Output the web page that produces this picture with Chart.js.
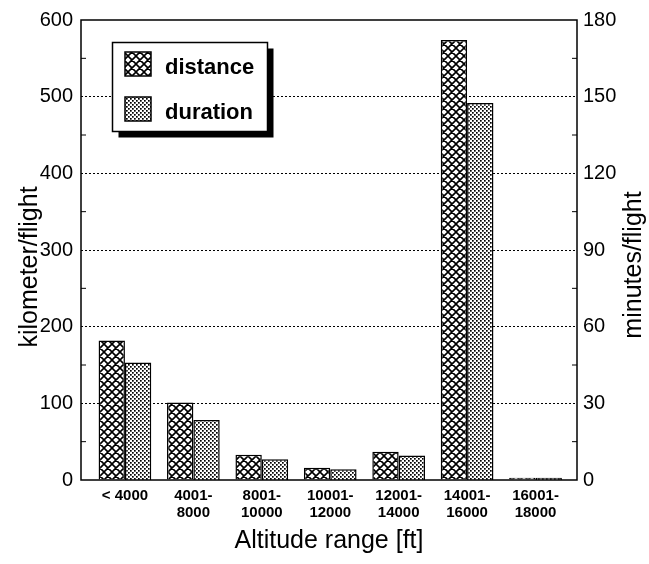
<!DOCTYPE html>
<html><head><meta charset="utf-8">
<script src="https://cdn.jsdelivr.net/npm/chart.js@4/dist/chart.umd.min.js"></script>
<style>html,body{margin:0;padding:0;background:#fff}#wrap{width:649px;height:564px;position:relative}</style>
</head><body><div id="wrap"><canvas id="c" width="649" height="564"></canvas></div>
<script>
const categories = [['< 4000'], ['4001-','8000'], ['8001-','10000'], ['10001-','12000'], ['12001-','14000'], ['14001-','16000'], ['16001-','18000']];
const distanceKm = [182, 101, 33, 16, 37, 574, 3];
const durationMin = [46, 23.5, 8.1, 4.2, 9.6, 147.5, 0.9];
const seriesNames = ['distance', 'duration'];
const leftTicks = [0, 100, 200, 300, 400, 500, 600];
const rightTicks = [0, 30, 60, 90, 120, 150, 180];
const xTitle = 'Altitude range [ft]';
const yTitle = 'kilometer/flight';
const y2Title = 'minutes/flight';

const NARROW = "'Liberation Sans Narrow', 'Liberation Sans', Arial, sans-serif";
const SANS = "'Liberation Sans', Arial, sans-serif";

function hatchPattern(ctx) {
  const c = document.createElement('canvas'); c.width = 8; c.height = 8;
  const g = c.getContext('2d');
  g.fillStyle = '#fff'; g.fillRect(0, 0, 8, 8);
  g.strokeStyle = '#000'; g.lineWidth = 1.6;
  g.beginPath();
  for (const k of [-8, 0, 8]) {
    g.moveTo(k, 0); g.lineTo(k + 8, 8);
    g.moveTo(k + 8, 0); g.lineTo(k, 8);
  }
  g.stroke();
  return ctx.createPattern(c, 'repeat');
}
function dotPattern(ctx) {
  const c = document.createElement('canvas'); c.width = 4; c.height = 4;
  const g = c.getContext('2d');
  g.fillStyle = '#fff'; g.fillRect(0, 0, 4, 4);
  g.fillStyle = '#000';
  g.fillRect(0, 0, 1.7, 1.7);
  g.fillRect(2, 2, 1.7, 1.7);
  return ctx.createPattern(c, 'repeat');
}

const canvas = document.getElementById('c');
const ctx0 = canvas.getContext('2d');
const hatch = hatchPattern(ctx0);
const dots = dotPattern(ctx0);

const decor = {
  id: 'decor',
  afterDatasetsDraw(chart) {
    const {ctx, chartArea: a, scales} = chart;
    ctx.save();
    ctx.setLineDash([]);
    ctx.strokeStyle = '#000';
    ctx.lineWidth = 1;
    ctx.beginPath();
    for (let i = 0; i < leftTicks.length - 1; i++) {
      const y = scales.y.getPixelForValue((leftTicks[i] + leftTicks[i + 1]) / 2);
      ctx.moveTo(a.left, y); ctx.lineTo(a.left + 5, y);
    }
    for (let i = 0; i < rightTicks.length - 1; i++) {
      const y = scales.y2.getPixelForValue((rightTicks[i] + rightTicks[i + 1]) / 2);
      ctx.moveTo(a.right - 5, y); ctx.lineTo(a.right, y);
    }
    ctx.stroke();
    ctx.lineWidth = 1.5;
    ctx.strokeRect(a.left, a.top, a.right - a.left, a.bottom - a.top);
    // legend
    const lx = 112.5, ly = 42.5, lw = 155, lh = 89;
    ctx.fillStyle = '#000';
    ctx.fillRect(lx + 6, ly + 6, lw, lh);
    ctx.fillStyle = '#fff';
    ctx.fillRect(lx, ly, lw, lh);
    ctx.lineWidth = 1.5;
    ctx.strokeRect(lx, ly, lw, lh);
    const pats = [hatch, dots];
    ctx.font = 'bold 22px ' + SANS;
    ctx.textAlign = 'left'; ctx.textBaseline = 'alphabetic';
    for (let i = 0; i < seriesNames.length; i++) {
      const sy = 52 + i * 45;
      ctx.fillStyle = pats[i];
      ctx.fillRect(125, sy, 26, 24);
      ctx.lineWidth = 1.5; ctx.strokeStyle = '#000';
      ctx.strokeRect(125, sy, 26, 24);
      ctx.fillStyle = '#000';
      ctx.fillText(seriesNames[i], 165, sy + 22);
    }
    // vertical axis titles
    ctx.font = '25px ' + SANS;
    ctx.textAlign = 'center'; ctx.textBaseline = 'middle';
    ctx.save();
    ctx.translate(30, 267); ctx.rotate(-Math.PI / 2);
    ctx.fillText(yTitle, 0, 0);
    ctx.restore();
    ctx.save();
    ctx.translate(634, 265); ctx.rotate(-Math.PI / 2);
    ctx.fillText(y2Title, 0, 0);
    ctx.restore();
    ctx.restore();
  }
};

new Chart(canvas, {
  type: 'bar',
  data: {
    datasets: [
      {
        label: seriesNames[0],
        data: distanceKm.map((v, i) => ({x: i, y: v})),
        backgroundColor: hatch, borderColor: '#000', borderWidth: 1.5,
        yAxisID: 'y', categoryPercentage: 0.77, barPercentage: 1.0
      },
      {
        label: seriesNames[1],
        data: durationMin.map((v, i) => ({x: i, y: v})),
        backgroundColor: dots, borderColor: '#000', borderWidth: 1.5,
        yAxisID: 'y2', categoryPercentage: 0.77, barPercentage: 1.0
      }
    ]
  },
  options: {
    responsive: false, animation: false,
    layout: {padding: {top: 15, left: 0, right: 0, bottom: 0}},
    plugins: {legend: {display: false}, tooltip: {enabled: false}},
    scales: {
      x: {
        type: 'linear', min: -0.642, max: 6.606, offset: false,
        afterBuildTicks: s => { s.ticks = categories.map((_, i) => ({value: i})); },
        afterFit: s => { s.height = 84; },
        grid: {display: false, drawTicks: false}, border: {display: false},
        ticks: {
          callback: v => categories[v], color: '#000', padding: 8,
          maxRotation: 0, autoSkip: false,
          font: {family: SANS, size: 15, weight: 'bold', lineHeight: 1.1}
        },
        title: {display: true, text: xTitle, color: '#000', font: {family: SANS, size: 25}, padding: {top: 0, bottom: 8}}
      },
      y: {
        position: 'left', min: 0, max: 600,
        afterBuildTicks: s => { s.ticks = leftTicks.map(v => ({value: v})); },
        afterFit: s => { s.width = 81; },
        grid: {
          color: c => (c.tick && c.tick.value > 0 && c.tick.value < 600) ? '#000' : 'rgba(0,0,0,0)',
          lineWidth: 1, drawTicks: false
        },
        border: {display: false, dash: [2, 2]},
        ticks: {color: '#000', padding: 8, font: {family: NARROW, size: 20}}
      },
      y2: {
        position: 'right', min: 0, max: 180,
        afterBuildTicks: s => { s.ticks = rightTicks.map(v => ({value: v})); },
        afterFit: s => { s.width = 72; },
        grid: {display: false, drawTicks: false}, border: {display: false},
        ticks: {color: '#000', padding: 6, font: {family: NARROW, size: 20}}
      }
    }
  },
  plugins: [decor]
});
</script>
</body></html>
